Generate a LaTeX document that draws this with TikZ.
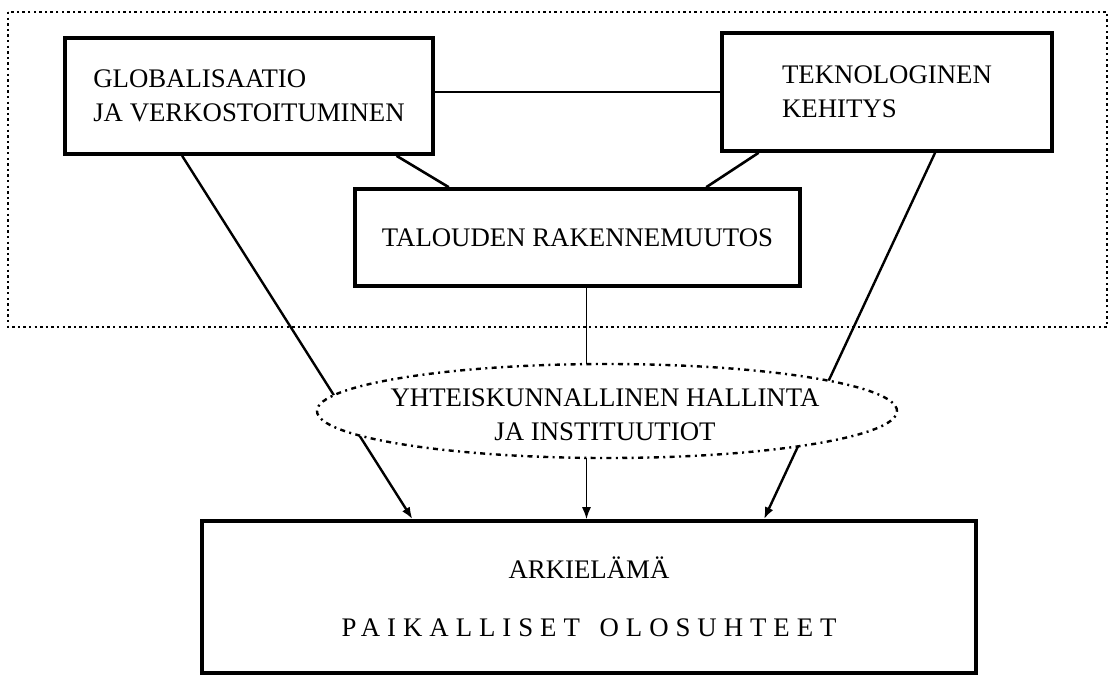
\documentclass[tikz,border=0pt]{standalone}
\usepackage{fontspec}
\setmainfont{Liberation Serif}
\usetikzlibrary{arrows.meta,calc,shapes.geometric}
\tikzset{
  box/.style={draw, line width=1.8pt, align=left, inner sep=0pt},
  link/.style={line width=1.3pt},
  flow/.style={line width=1.2pt, -{Latex[length=6pt,width=4.5pt]}},
  inst/.style={ellipse, draw, fill=white, line width=1.2pt, inner sep=0pt,
    dash pattern=on 2.5pt off 2.2pt on 1pt off 2.2pt},
}
\begin{document}
\begin{tikzpicture}[x=0.5pt, y=-0.5pt, font=\fontsize{13.4}{17}\selectfont, line join=miter, >=stealth]
	\useasboundingbox (0,0) rectangle (1112,675);
	% dotted frame round the top part
	\draw[line width=1.3pt, dash pattern=on 1.2pt off 1.6pt] (8,12) rectangle (1107,327);
	\node[box, minimum width=184pt, minimum height=58pt] (glob) at (249,96) {GLOBALISAATIO\\JA VERKOSTOITUMINEN};
	\node[box, minimum width=165pt, minimum height=59pt] (tek) at (887,92) {TEKNOLOGINEN\\KEHITYS};
	\node[box, minimum width=222.5pt, minimum height=48.5pt] (tal) at (577.5,237.5) {TALOUDEN RAKENNEMUUTOS};
	\node[box, align=center, minimum width=387pt, minimum height=76pt] (ark) at (589,597)
		{ARKIELÄMÄ\\[12pt]{\addfontfeature{LetterSpace=26}PAIKALLISET\hspace{3pt} OLOSUHTEET}};
	\draw[link] (tek.west -| glob.east) -- (tek.west);
	\draw[link] ($(glob.south west)!0.897!(glob.south east)$) -- ($(tal.north west)!0.213!(tal.north east)$);
	\draw[link] ($(tek.south west)!0.115!(tek.south east)$) -- ($(tal.north west)!0.787!(tal.north east)$);
	% arrows down to everyday life
	\draw[flow] ($(glob.south west)!0.32!(glob.south east)$) -- ($(ark.north west)!0.273!(ark.north east)$);
	\draw[flow] ($(tek.south west)!0.644!(tek.south east)$) -- ($(ark.north west)!0.725!(ark.north east)$);
	\draw[flow, line width=0.8pt] ($(tal.south west)!0.52!(tal.south east)$) coordinate (mid) -- (mid |- ark.north);
	\node[inst, minimum width=290pt, minimum height=47pt] (inst) at (607,411) {};
	\node[align=center] (inst-txt) at (605,415) {YHTEISKUNNALLINEN HALLINTA\\JA INSTITUUTIOT};
\end{tikzpicture}
\end{document}
